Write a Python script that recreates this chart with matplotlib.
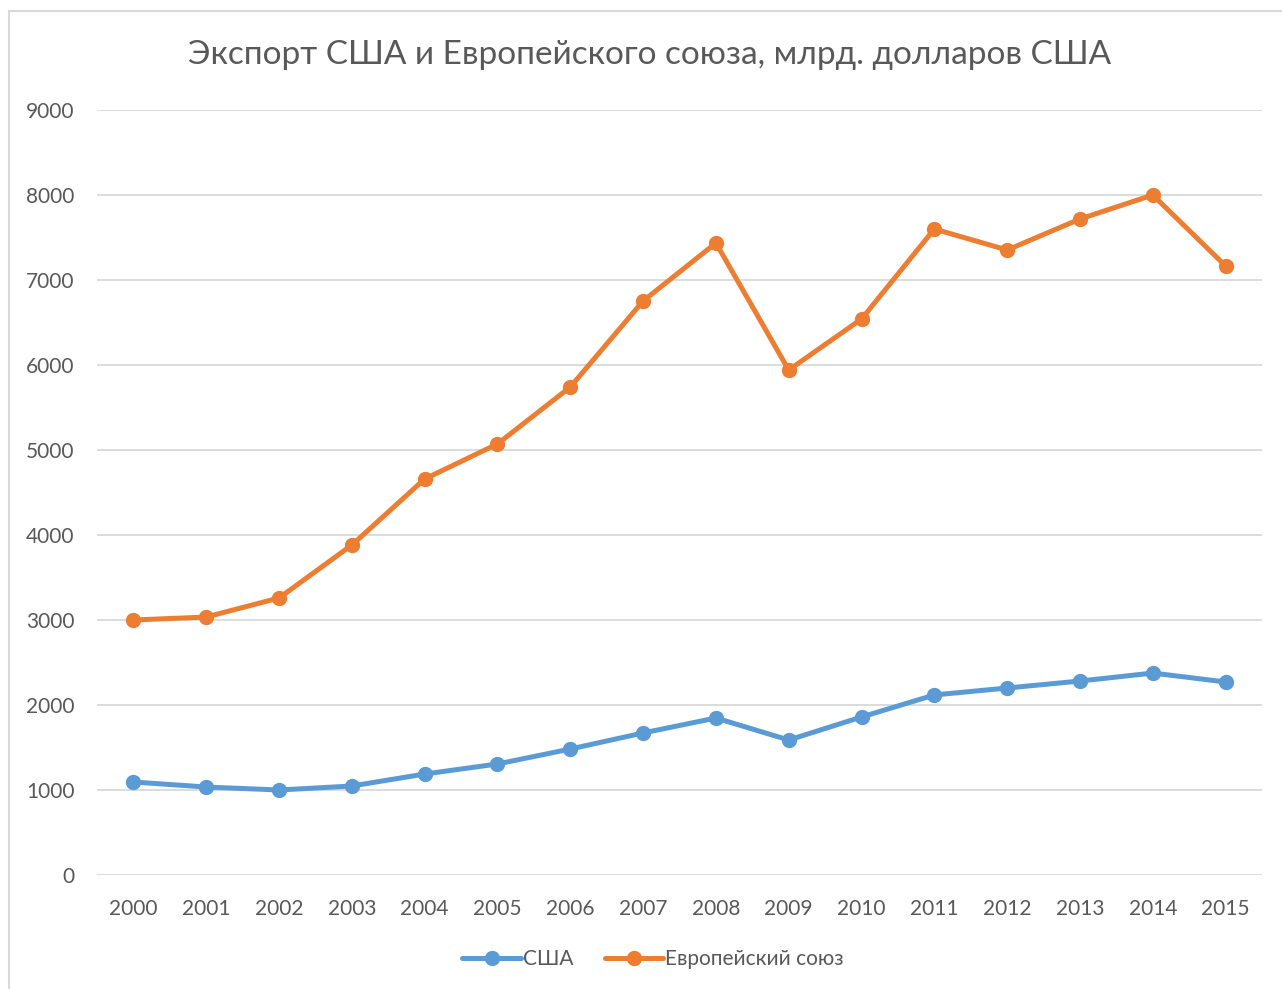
import matplotlib
matplotlib.use("Agg")
import matplotlib.pyplot as plt
from matplotlib.patches import Rectangle

# data
years = [str(y) for y in range(2000, 2016)]
usa = [1094, 1035, 1000, 1047, 1188, 1306, 1482, 1671, 1847, 1588, 1859, 2118, 2200, 2282, 2376, 2271]
eu = [3000, 3035, 3259, 3882, 4659, 5071, 5741, 6753, 7435, 5941, 6541, 7600, 7353, 7718, 8000, 7165]
yticks = list(range(0, 9001, 1000))

plt.rcParams['font.family'] = ['Lato', 'DejaVu Sans']
txt = '#595959'

fig = plt.figure(figsize=(12.82, 9.89), dpi=100)
ax = fig.add_axes([97/1282, 114/989, 1165/1282, 765/989])

# chart border
fig.patches.append(Rectangle((9/1282, -0.05), 1.1, (989-11)/989 + 0.05,
                             transform=fig.transFigure, fill=False,
                             edgecolor='#D9D9D9', linewidth=1.5))

x = list(range(len(years)))
ax.plot(x, usa, color='#5B9BD5', lw=3.6, marker='o', ms=10, label='США',
        solid_capstyle='round', zorder=3)
ax.plot(x, eu, color='#ED7D31', lw=3.6, marker='o', ms=10, label='Европейский союз',
        solid_capstyle='round', zorder=3)

ax.set_xlim(-0.5, len(years) - 0.5)
ax.set_ylim(0, 9000)
ax.set_yticks(yticks)
ax.set_xticks(x)
ax.set_xticklabels(years)
ax.grid(axis='y', color='#D9D9D9', lw=1.3)
ax.set_axisbelow(True)
for sp in ax.spines.values():
    sp.set_visible(False)
ax.tick_params(length=0, labelsize=15, colors=txt)
ax.tick_params(axis='x', pad=17)
ax.tick_params(axis='y', pad=16)

fig.text(650/1282, 1 - 55/989, 'Экспорт США и Европейского союза, млрд. долларов США',
         ha='center', va='center', fontsize=24, color=txt)

leg = fig.legend(loc='center', bbox_to_anchor=(653/1282, 1 - 959/989), ncol=2,
                 frameon=False, fontsize=15, handlelength=2.8, columnspacing=1.5,
                 handletextpad=0.1)
for t in leg.get_texts():
    t.set_color(txt)

fig.savefig('out.png', dpi=100)
